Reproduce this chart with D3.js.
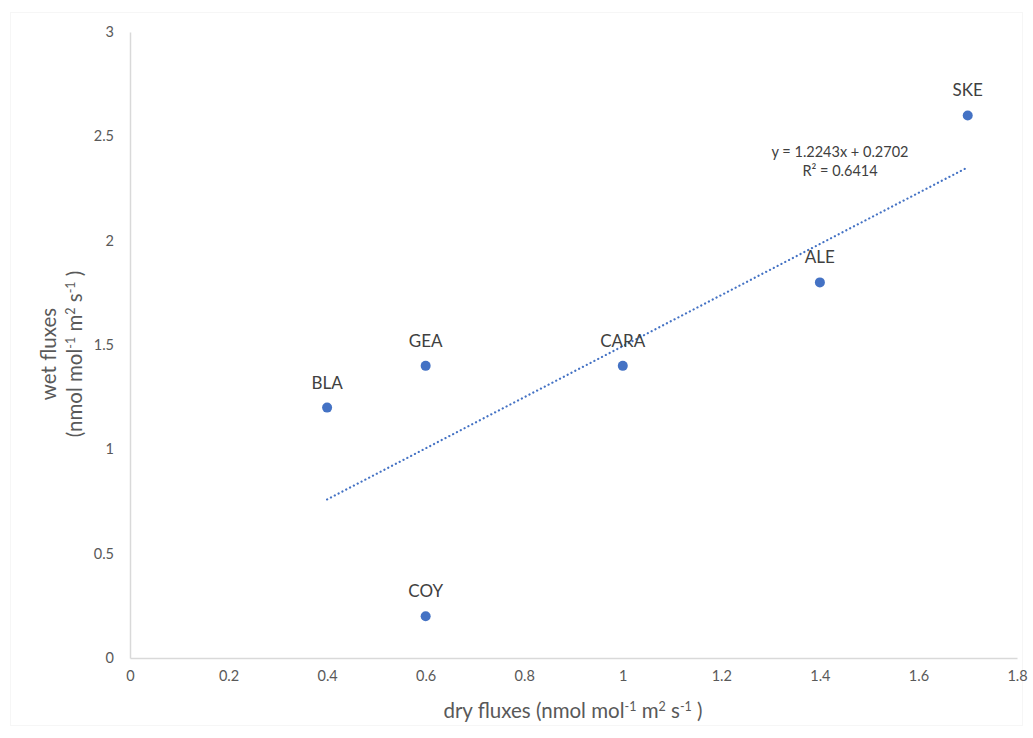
<!DOCTYPE html>
<html>
<head>
<meta charset="utf-8">
<script src="https://cdn.jsdelivr.net/npm/d3@7"></script>
<style>
  html, body { margin: 0; padding: 0; background: #fff; }
  svg { display: block; font-family: Lato, "Open Sans", sans-serif; }
</style>
</head>
<body>
<svg id="chart" width="1033" height="738"></svg>
<script>
// Site names and their dry / wet flux values
const sites = ["BLA", "GEA", "COY", "CARA", "ALE", "SKE"];
const dryFlux = [0.4, 0.6, 0.6, 1.0, 1.4, 1.7];
const wetFlux = [1.2, 1.4, 0.2, 1.4, 1.8, 2.6];

// Linear trend line fitted to the points
const slope = 1.2243;
const intercept = 0.2702;
const rSquared = 0.6414;

const xTicks = [0, 0.2, 0.4, 0.6, 0.8, 1, 1.2, 1.4, 1.6, 1.8];
const yTicks = [0, 0.5, 1, 1.5, 2, 2.5, 3];

const svg = d3.select("#chart");
const margin = { left: 130, right: 16, top: 32, bottom: 80 };
const W = 1033, H = 738;
const FONT = "Lato, 'Open Sans', sans-serif";

const x = d3.scaleLinear().domain([0, 1.8]).range([margin.left, W - margin.right]);
const y = d3.scaleLinear().domain([0, 3]).range([H - margin.bottom, margin.top]);

const blue = "#4472c4";
const axisColor = "#d9d9d9";
const tickColor = "#595959";

// Faint chart-area border
svg.append("rect")
  .attr("x", 10.5).attr("y", 12.5)
  .attr("width", W - 21).attr("height", H - 25)
  .attr("fill", "none").attr("stroke", "#f6f6f6").attr("stroke-width", 1);

// X axis
const xAxis = svg.append("g")
  .attr("transform", `translate(0,${y(0)})`)
  .call(d3.axisBottom(x).tickValues(xTicks).tickSize(0).tickPadding(13)
    .tickFormat(d => d3.format("")(+d.toFixed(1))));
xAxis.select(".domain").attr("stroke", axisColor).attr("stroke-width", 1.5);
xAxis.selectAll("text").attr("fill", tickColor).attr("font-size", 14.5)
  .attr("font-family", FONT);

// Y axis
const yAxis = svg.append("g")
  .attr("transform", `translate(${x(0)},0)`)
  .call(d3.axisLeft(y).tickValues(yTicks).tickSize(0).tickPadding(16)
    .tickFormat(d => d3.format("")(d)));
yAxis.select(".domain").attr("stroke", axisColor).attr("stroke-width", 1.5);
yAxis.selectAll("text").attr("fill", tickColor).attr("font-size", 14.5)
  .attr("font-family", FONT);

// Dotted trend line over the span of the data
const xMin = d3.min(dryFlux), xMax = d3.max(dryFlux);
svg.append("line")
  .attr("x1", x(xMin)).attr("y1", y(slope * xMin + intercept))
  .attr("x2", x(xMax)).attr("y2", y(slope * xMax + intercept))
  .attr("stroke", blue).attr("stroke-width", 2.2)
  .attr("stroke-dasharray", "0.1,4.2").attr("stroke-linecap", "round");

// Points
const data = sites.map((s, i) => ({ name: s, dx: dryFlux[i], wy: wetFlux[i] }));
svg.selectAll("circle.pt").data(data).enter().append("circle")
  .attr("class", "pt")
  .attr("cx", d => x(d.dx)).attr("cy", d => y(d.wy))
  .attr("r", 5).attr("fill", blue);

// Site labels above the points
svg.selectAll("text.lbl").data(data).enter().append("text")
  .attr("class", "lbl")
  .attr("x", d => x(d.dx)).attr("y", d => y(d.wy) - 19)
  .attr("text-anchor", "middle")
  .attr("fill", "#404040").attr("font-size", 17)
  .text(d => d.name);

// Trend line equation
const eq = svg.append("g").attr("fill", "#404040").attr("font-size", 14.5).attr("text-anchor", "middle");
eq.append("text").attr("x", 840).attr("y", 157)
  .text(`y = ${slope}x + ${intercept}`);
eq.append("text").attr("x", 840).attr("y", 176)
  .text(`R² = ${rSquared}`);

// Axis titles with superscripts
const titleColor = "#595959";
function addUnits(t) {
  t.append("tspan").attr("dy", -7).attr("font-size", 12.5).text("-1");
  t.append("tspan").attr("dy", 7).text(" m");
  t.append("tspan").attr("dy", -7).attr("font-size", 12.5).text("2");
  t.append("tspan").attr("dy", 7).text(" s");
  t.append("tspan").attr("dy", -7).attr("font-size", 12.5).text("-1");
  t.append("tspan").attr("dy", 7).text(" )");
}
const xt = svg.append("text")
  .attr("x", 573).attr("y", 718)
  .attr("text-anchor", "middle").attr("fill", titleColor).attr("font-size", 20.5);
xt.append("tspan").text("dry fluxes (nmol mol");
addUnits(xt);

const yt = svg.append("g").attr("transform", "translate(0,354) rotate(-90)")
  .attr("fill", titleColor).attr("font-size", 20.5).attr("text-anchor", "middle");
yt.append("text").attr("x", 0).attr("y", 56).text("wet fluxes");
const yt2 = yt.append("text").attr("x", 0).attr("y", 82);
yt2.append("tspan").text("(nmol mol");
addUnits(yt2);
</script>
</body>
</html>
